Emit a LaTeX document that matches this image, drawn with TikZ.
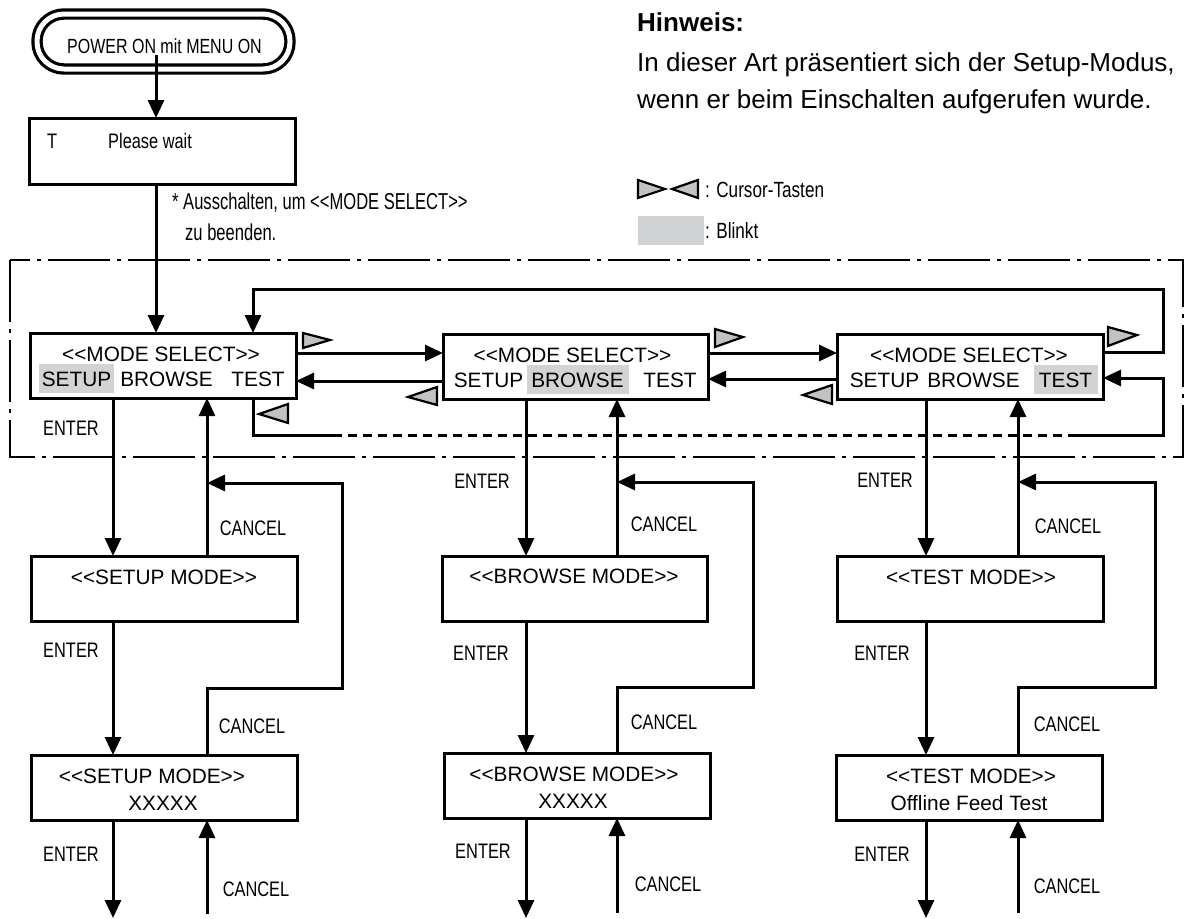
\documentclass[tikz,border=0pt]{standalone}
\usepackage{fontspec}
\setmainfont{Liberation Sans}
\newfontfamily\nar[FakeStretch=0.78]{Liberation Sans}
\newfontfamily\narb[FakeStretch=0.72]{Liberation Sans}
\usetikzlibrary{arrows.meta}
\definecolor{blink}{RGB}{209,211,212}
\definecolor{curs}{RGB}{192,194,196}
\newcommand\Lq{<\kern0pt<}
\newcommand\Rq{>\kern0pt>}
\begin{document}
\begin{tikzpicture}[x=1pt,y=-1pt,
  box/.style={draw, line width=3pt, inner sep=0pt, outer sep=0pt, minimum width=266pt, minimum height=65pt},
  cn/.style={line width=3pt},
  ar/.style={cn, -{Triangle[length=18pt,width=16pt]}},
  rg/.style={font=\fontsize{20.8pt}{24pt}\selectfont, anchor=base, inner sep=0pt},
  nr/.style={font=\nar\fontsize{21pt}{24pt}\selectfont, anchor=base, inner sep=0pt},
  hw/.style={font=\fontsize{26pt}{30pt}\selectfont, anchor=base west, inner sep=0pt},
  cur/.style={fill=curs, draw=black, line width=2.2pt, line join=miter},
  frm/.style={line width=2pt, dash pattern=on 62pt off 7pt on 4pt off 7pt},
  dsh/.style={line width=3pt, dash pattern=on 9pt off 6pt}]
\useasboundingbox (0,0) rectangle (1193,918);

% dash-dot frame
\draw[frm] (10,260) rectangle (1183,457);

% start nodes
\node[box, minimum width=253pt, minimum height=55pt, rounded corners=27pt, double, double distance=5pt, line width=3.2pt] (pwr) at (163.5,41.5) {};
\node[nr, font=\nar\fontsize{20.5pt}{24pt}\selectfont] (pwrt) at (164.5,53) {POWER ON mit MENU ON};
\node[box, minimum height=66pt] (pw) at (162,151) {};
\node[nr, anchor=base west] (pwT) at (47,148) {T};
\node[nr, anchor=base west] (pwP) at (108,148) {Please wait};
\node[nr, anchor=base west, font=\narb\fontsize{23pt}{26pt}\selectfont] (note1) at (172,209) {* Ausschalten, um \Lq MODE SELECT\Rq};
\node[nr, anchor=base west, font=\narb\fontsize{23pt}{26pt}\selectfont] (note2) at (185,240) {zu beenden.};

% hint text
\node[hw, font=\bfseries\fontsize{26pt}{30pt}\selectfont] (h1) at (637,31) {Hinweis:};
\node[hw] (h2) at (637,71) {In dieser Art präsentiert sich der Setup-Modus,};
\node[hw] (h3) at (637,108) {wenn er beim Einschalten aufgerufen wurde.};

% legend
\draw[cur] (638,180) -- (638,198) -- (665,189) -- cycle;
\draw[cur] (698,180) -- (698,198) -- (672,189) -- cycle;
\node[nr, anchor=base west, font=\nar\fontsize{22pt}{24pt}\selectfont] (lg1) at (705,197) {: Cursor-Tasten};
\fill[blink] (638,216) rectangle (704,245);
\node[nr, anchor=base west, font=\nar\fontsize{22pt}{24pt}\selectfont] (lg2) at (705,238) {: Blinkt};

% mode select boxes
\fill[blink] (39,364) rectangle (114,393);
\fill[blink] (527,365) rectangle (629,394);
\fill[blink] (1034,365) rectangle (1098,394);
\node[box] (ms1) at (163,365.5) {};
\node[box, minimum width=265pt] (ms2) at (575.5,366.5) {};
\node[box] (ms3) at (970,366.5) {};
\node[rg] (ms1a) at (161,361.5) {\Lq MODE SELECT\Rq};
\node[rg] (ms1b) at (76.5,386.5) {SETUP};
\node[rg] (ms1c) at (166.5,386.5) {BROWSE};
\node[rg] (ms1d) at (258,386.5) {TEST};
\node[rg] (ms2a) at (572.5,362) {\Lq MODE SELECT\Rq};
\node[rg] (ms2b) at (488.5,387) {SETUP};
\node[rg] (ms2c) at (577.5,387) {BROWSE};
\node[rg] (ms2d) at (670,387) {TEST};
\node[rg] (ms3a) at (969,362) {\Lq MODE SELECT\Rq};
\node[rg] (ms3b) at (884.5,387) {SETUP};
\node[rg] (ms3c) at (973.5,387) {BROWSE};
\node[rg] (ms3d) at (1065.5,387) {TEST};

% mode boxes
\node[box] (sm1) at (164,588.5) {};
\node[rg] (sm1t) at (164,584) {\Lq SETUP MODE\Rq};
\node[box] (sm2) at (164,787.5) {};
\node[rg] (sm2t) at (152,783) {\Lq SETUP MODE\Rq};
\node[rg] (sm2x) at (163,810) {XXXXX};
\node[box, minimum width=265pt] (bm1) at (574.5,588.5) {};
\node[rg] (bm1t) at (574,583.5) {\Lq BROWSE MODE\Rq};
\node[box] (bm2) at (577,785.5) {};
\node[rg] (bm2t) at (574,781) {\Lq BROWSE MODE\Rq};
\node[rg] (bm2x) at (573,808) {XXXXX};
\node[box] (tm1) at (970,588.5) {};
\node[rg] (tm1t) at (971,584) {\Lq TEST MODE\Rq};
\node[box] (tm2) at (969,787.5) {};
\node[rg] (tm2t) at (971,783) {\Lq TEST MODE\Rq};
\node[rg] (tm2x) at (969,810) {Offline Feed Test};

% helper coordinates
\coordinate (ps) at (156,55);
\coordinate (xl) at (253,0);
\coordinate (y1) at (0,353);
\coordinate (y2) at (0,381);
\coordinate (y3) at (0,379);
\coordinate (ya) at (0,352);
\coordinate (yb) at (0,378);
\coordinate (t1) at (1163,352);
\coordinate (t2) at (1163,289);
\coordinate (t3) at (253,289);
\coordinate (b1) at (253,435);
\coordinate (b2) at (333,435);
\coordinate (b3) at (1070,435);
\coordinate (b4) at (1163,435);
\coordinate (b5) at (1163,378);

% start connectors
\draw[ar] (ps) -- (pw.north -| ps);
\draw[ar] (pw.south -| ps) -- (ms1.north -| ps);

% mode select connectors
\draw[ar] (ms1.east |- y1) -- (ms2.west |- y1);
\draw[ar] (ms2.west |- y2) -- (ms1.east |- y2);
\draw[ar] (ms2.east |- y1) -- (ms3.west |- y1);
\draw[ar] (ms3.west |- y3) -- (ms2.east |- y3);
\draw[ar] (ms3.east |- ya) -- (t1) -- (t2) -- (t3) -- (ms1.north -| xl);
\draw[cn] (ms1.south -| xl) -- (b1) -- (b2);
\draw[dsh] (b2) -- (b3);
\draw[ar] (b3) -- (b4) -- (b5) -- (ms3.east |- yb);

% cursor keys
\draw[cur] (303,333) -- (303,348) -- (330,340) -- cycle;
\draw[cur] (288,404) -- (288,423) -- (259,414) -- cycle;
\draw[cur] (437,387) -- (437,405) -- (408,397) -- cycle;
\draw[cur] (715,329) -- (715,347) -- (743,337) -- cycle;
\draw[cur] (832,385) -- (832,404) -- (803,395) -- cycle;
\draw[cur] (1108,327) -- (1108,346) -- (1137,335) -- cycle;

% column 1
\coordinate (e1) at (113,0);
\coordinate (c1) at (207,0);
\coordinate (l1a) at (207,688);
\coordinate (l1b) at (342,688);
\coordinate (l1c) at (342,483);
\coordinate (l1d) at (207,483);
\coordinate (o1) at (113,918);
\coordinate (i1) at (207,914);
\draw[ar] (ms1.south -| e1) -- (sm1.north -| e1);
\draw[ar] (sm1.north -| c1) -- (ms1.south -| c1);
\draw[ar] (sm2.north -| c1) -- (l1a) -- (l1b) -- (l1c) -- (l1d);
\draw[ar] (sm1.south -| e1) -- (sm2.north -| e1);
\draw[ar] (sm2.south -| e1) -- (o1);
\draw[ar] (i1) -- (sm2.south -| c1);

% column 2
\coordinate (e2) at (526,0);
\coordinate (c2) at (617,0);
\coordinate (l2a) at (617,687);
\coordinate (l2b) at (753,687);
\coordinate (l2c) at (753,482);
\coordinate (l2d) at (617,482);
\coordinate (o2) at (526,918);
\coordinate (i2) at (617,913);
\draw[ar] (ms2.south -| e2) -- (bm1.north -| e2);
\draw[ar] (bm1.north -| c2) -- (ms2.south -| c2);
\draw[ar] (bm2.north -| c2) -- (l2a) -- (l2b) -- (l2c) -- (l2d);
\draw[ar] (bm1.south -| e2) -- (bm2.north -| e2);
\draw[ar] (bm2.south -| e2) -- (o2);
\draw[ar] (i2) -- (bm2.south -| c2);

% column 3
\coordinate (e3) at (926,0);
\coordinate (c3) at (1018,0);
\coordinate (l3a) at (1018,687);
\coordinate (l3b) at (1155,687);
\coordinate (l3c) at (1155,482);
\coordinate (l3d) at (1018,482);
\coordinate (o3) at (926,918);
\coordinate (i3) at (1018,913);
\draw[ar] (ms3.south -| e3) -- (tm1.north -| e3);
\draw[ar] (tm1.north -| c3) -- (ms3.south -| c3);
\draw[ar] (tm2.north -| c3) -- (l3a) -- (l3b) -- (l3c) -- (l3d);
\draw[ar] (tm1.south -| e3) -- (tm2.north -| e3);
\draw[ar] (tm2.south -| e3) -- (o3);
\draw[ar] (i3) -- (tm2.south -| c3);

% labels
\node[nr] (en1a) at (71,435) {ENTER};
\node[nr] (en1b) at (71,657) {ENTER};
\node[nr] (en1c) at (71,861) {ENTER};
\node[nr] (ca1a) at (253,535) {CANCEL};
\node[nr] (ca1b) at (252,733) {CANCEL};
\node[nr] (ca1c) at (256,896) {CANCEL};
\node[nr] (en2a) at (482,488) {ENTER};
\node[nr] (en2b) at (481,660) {ENTER};
\node[nr] (en2c) at (483,858) {ENTER};
\node[nr] (ca2a) at (664,531) {CANCEL};
\node[nr] (ca2b) at (664,729) {CANCEL};
\node[nr] (ca2c) at (668,891) {CANCEL};
\node[nr] (en3a) at (885,487) {ENTER};
\node[nr] (en3b) at (882,660) {ENTER};
\node[nr] (en3c) at (882,861) {ENTER};
\node[nr] (ca3a) at (1068,533) {CANCEL};
\node[nr] (ca3b) at (1067,731) {CANCEL};
\node[nr] (ca3c) at (1067,893) {CANCEL};
\end{tikzpicture}
\end{document}
